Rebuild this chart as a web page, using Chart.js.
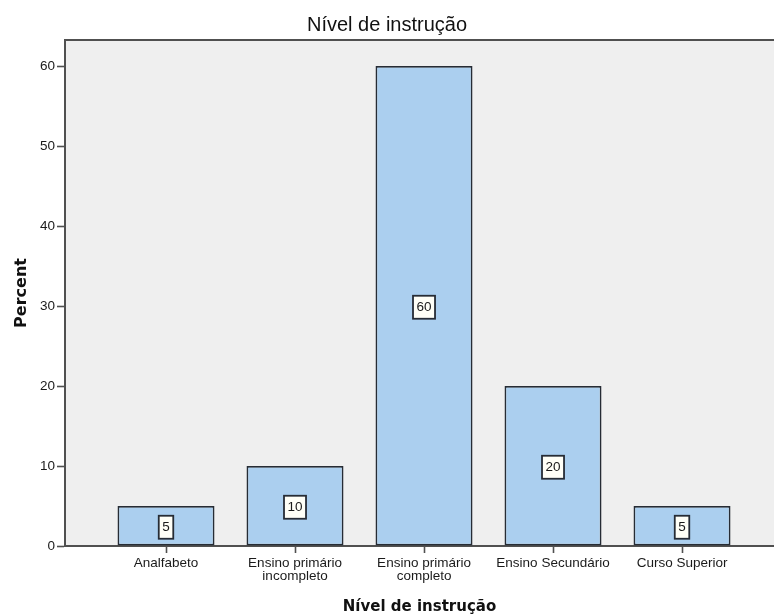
<!DOCTYPE html>
<html>
<head>
<meta charset="utf-8">
<script src="https://cdn.jsdelivr.net/npm/chart.js@4/dist/chart.umd.min.js"></script>
<style>
  html, body { margin: 0; padding: 0; background: #ffffff; }
  #wrap { width: 774px; height: 616px; }
</style>
</head>
<body>
<div id="wrap"><canvas id="chart" width="774" height="616"></canvas></div>
<script>
// Education level distribution (percent of respondents)
const chartTitle = 'Nível de instrução';
const xAxisTitle = 'Nível de instrução';
const yAxisTitle = 'Percent';
const categories = [
  ['Analfabeto'],
  ['Ensino primário', 'incompleto'],
  ['Ensino primário', 'completo'],
  ['Ensino Secundário'],
  ['Curso Superior']
];
const percentValues = [5, 10, 60, 20, 5];
const yTickValues = [0, 10, 20, 30, 40, 50, 60];

const PLOT_BG = '#efefef';
const BAR_FILL = '#abcfef';
const BAR_EDGE = '#262c35';
const AXIS_COLOR = '#505050';
const TEXT_COLOR = '#1a1a1a';

// Fill the plot panel and draw its top edge
const panelPlugin = {
  id: 'panel',
  beforeDraw(chart) {
    const { ctx, chartArea: a } = chart;
    ctx.save();
    ctx.fillStyle = '#ffffff';
    ctx.fillRect(0, 0, chart.width, chart.height);
    ctx.fillStyle = PLOT_BG;
    ctx.fillRect(a.left, a.top, a.right - a.left, a.bottom - a.top);
    ctx.strokeStyle = AXIS_COLOR;
    ctx.lineWidth = 2;
    ctx.beginPath();
    ctx.moveTo(a.left - 1, a.top);
    ctx.lineTo(a.right, a.top);
    ctx.stroke();
    ctx.restore();
  }
};

// Boxed value label in the middle of each bar
const valueBoxPlugin = {
  id: 'valueBoxes',
  afterDatasetsDraw(chart) {
    const { ctx } = chart;
    const meta = chart.getDatasetMeta(0);
    const ds = chart.data.datasets[0];
    ctx.save();
    ctx.font = '13.5px "Liberation Sans", Arial, sans-serif';
    ctx.textAlign = 'center';
    ctx.textBaseline = 'middle';
    meta.data.forEach((bar, i) => {
      const { x, y, base } = bar.getProps(['x', 'y', 'base'], true);
      const text = String(ds.data[i].y);
      const w = ctx.measureText(text).width + 7;
      const h = 23;
      const cy = (y + base) / 2 + 1.5;
      ctx.fillStyle = '#fffff7';
      ctx.fillRect(x - w / 2, cy - h / 2, w, h);
      ctx.strokeStyle = BAR_EDGE;
      ctx.lineWidth = 1.8;
      ctx.strokeRect(x - w / 2, cy - h / 2, w, h);
      ctx.fillStyle = TEXT_COLOR;
      ctx.fillText(text, x, cy + 0.5);
    });
    ctx.restore();
  }
};

new Chart(document.getElementById('chart'), {
  type: 'bar',
  data: {
    datasets: [{
      data: percentValues.map((v, i) => ({ x: i, y: v })),
      backgroundColor: BAR_FILL,
      borderColor: BAR_EDGE,
      borderWidth: 1.8,
      borderSkipped: false,
      categoryPercentage: 1,
      barPercentage: 0.752
    }]
  },
  plugins: [panelPlugin, valueBoxPlugin],
  options: {
    responsive: false,
    animation: false,
    devicePixelRatio: 1,
    layout: { padding: 0 },
    plugins: {
      legend: { display: false },
      tooltip: { enabled: false },
      title: {
        display: true,
        text: chartTitle,
        color: '#111111',
        font: { family: '"Liberation Sans", Arial, sans-serif', size: 20, weight: 'normal', lineHeight: 1.2 },
        padding: { top: 13.5, bottom: 2.5 }
      }
    },
    scales: {
      x: {
        type: 'linear',
        min: -0.783,
        max: 4.713,
        offset: false,
        afterBuildTicks(scale) {
          scale.ticks = categories.map((_, i) => ({ value: i }));
        },
        afterFit(scale) { scale.height = 70; },
        ticks: {
          autoSkip: false,
          maxRotation: 0,
          minRotation: 0,
          padding: 4.5,
          color: TEXT_COLOR,
          font: { family: '"Liberation Sans", Arial, sans-serif', size: 13.5, lineHeight: 0.93 },
          callback: (v) => categories[v]
        },
        grid: {
          offset: false,
          drawOnChartArea: false,
          drawTicks: true,
          tickLength: 7,
          tickWidth: 1.6,
          tickColor: AXIS_COLOR
        },
        border: { display: true, color: AXIS_COLOR, width: 2 },
        title: {
          display: true,
          text: xAxisTitle,
          color: '#111111',
          font: { family: '"DejaVu Sans", Verdana, sans-serif', size: 15, weight: 'bold', lineHeight: 1.2 },
          padding: { top: 0, bottom: 0 }
        }
      },
      y: {
        type: 'linear',
        min: 0,
        max: 63.25,
        afterBuildTicks(scale) {
          scale.ticks = yTickValues.map(v => ({ value: v }));
        },
        afterFit(scale) { scale.width = 65; },
        ticks: {
          padding: 2,
          color: TEXT_COLOR,
          font: { family: '"Liberation Sans", Arial, sans-serif', size: 13.5 }
        },
        grid: {
          drawOnChartArea: false,
          drawTicks: true,
          tickLength: 8,
          tickWidth: 1.6,
          tickColor: AXIS_COLOR
        },
        border: { display: true, color: AXIS_COLOR, width: 2 },
        title: {
          display: true,
          text: yAxisTitle,
          color: '#111111',
          font: { family: '"DejaVu Sans", Verdana, sans-serif', size: 16, weight: 'bold', lineHeight: 1.2 },
          padding: { top: 12, bottom: 0 }
        }
      }
    }
  }
});
</script>
</body>
</html>
